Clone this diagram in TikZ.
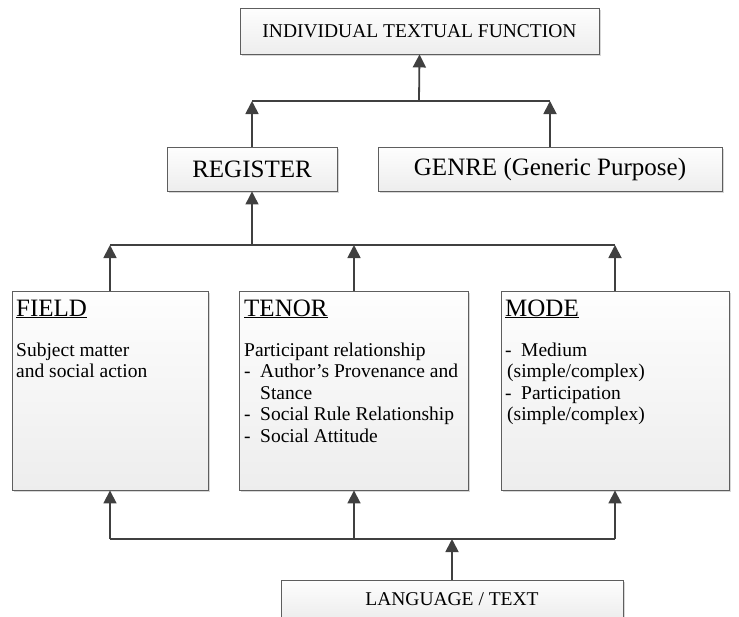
\documentclass[tikz,border=0pt]{standalone}
\usepackage{fontspec}
\setmainfont{Liberation Serif}
\usetikzlibrary{arrows.meta,shadows}

\definecolor{edgegray}{HTML}{404040}
\definecolor{framegray}{HTML}{5E5E5E}

% text sizes
\newcommand\hdsize{\fontsize{25}{28}\selectfont}
\newcommand\bdsize{\fontsize{19.5}{21.5}\selectfont}
% list lines inside the boxes
\newcommand\itm[1]{\hbox{\makebox[16pt][l]{-}#1}}
\newcommand\cnt[1]{\hbox{\hspace*{16pt}#1}}

\tikzset{
  box/.style={draw=framegray, line width=0.9pt, top color=black!0.5, bottom color=black!7,
    inner sep=0pt, drop shadow={shadow xshift=1.6pt, shadow yshift=-1.6pt, fill=black!35, opacity=0.45}},
  arr/.style={draw=edgegray, line width=1.8pt, -{Triangle[width=13pt,length=13pt]}},
  rail/.style={draw=edgegray, line width=1.1pt},
  txt/.style={inner sep=0pt, anchor=base west},
}

\begin{document}
\begin{tikzpicture}[x=1pt, y=-1pt]
\useasboundingbox (0,0) rectangle (739,616);

% boxes
\node[box, minimum width=359pt, minimum height=46pt] (itf) at (419.5,31) {\bdsize INDIVIDUAL TEXTUAL FUNCTION};
\node[box, minimum width=170pt, minimum height=44pt] (reg) at (252,169) {\hdsize REGISTER};
\node[box, minimum width=344pt, minimum height=44pt] (genre) at (550,169) {\hdsize GENRE (Generic Purpose)};
\node[box, minimum width=196pt, minimum height=199pt] (field) at (110,390.5) {};
\node[box, minimum width=229pt, minimum height=199pt] (tenor) at (354,390.5) {};
\node[box, minimum width=228pt, minimum height=199pt] (mode) at (615,390.5) {};
\node[box, minimum width=342pt, minimum height=38pt] (lang) at (452,599) {\bdsize LANGUAGE / TEXT};

% box contents
\node[txt] (fieldhead) at (16,316) {\hdsize\underline{FIELD}};
\node[txt] (tenorhead) at (244,316) {\hdsize\underline{TENOR}};
\node[txt] (modehead) at (505,316) {\hdsize\underline{MODE}};

\node[txt] (fieldbody) at (16,356) {\vtop{\bdsize\lineskiplimit=-100pt
  \hbox{Subject matter}\hbox{and social action}}};
\node[txt] (tenorbody) at (244,356) {\vtop{\bdsize\lineskiplimit=-100pt
  \hbox{Participant relationship}
  \itm{Author’s Provenance and}
  \cnt{Stance}
  \itm{Social Rule Relationship}
  \itm{Social Attitude}}};
\node[txt] (modebody) at (505,356) {\vtop{\bdsize\lineskiplimit=-100pt
  \itm{Medium}
  \hbox{\hspace*{2pt}(simple/complex)}
  \itm{Participation}
  \hbox{\hspace*{2pt}(simple/complex)}}};

% junction rails
\coordinate (railA) at (419,101);
\coordinate (railB) at (252,245);
\coordinate (railC) at (452,539);

% register and genre into the function box
\draw[arr] (reg.north) -- (reg.north |- railA);
\draw[arr] (genre.north) -- (genre.north |- railA);
\draw[rail] (reg.north |- railA) -- (genre.north |- railA);
\draw[arr] (railA) -- (itf.south);

% field, tenor and mode into register
\draw[arr] (field.north) -- (field.north |- railB);
\draw[arr] (tenor.north) -- (tenor.north |- railB);
\draw[arr] (mode.north) -- (mode.north |- railB);
\draw[rail] (field.north |- railB) -- (mode.north |- railB);
\draw[arr, line width=1.2pt] (railB) -- (reg.south);

% language / text into field, tenor and mode
\draw[rail] (field.south |- railC) -- (mode.south |- railC);
\draw[arr] (field.south |- railC) -- (field.south);
\draw[arr] (tenor.south |- railC) -- (tenor.south);
\draw[arr] (mode.south |- railC) -- (mode.south);
\draw[arr] (lang.north) -- (railC);
\end{tikzpicture}
\end{document}
